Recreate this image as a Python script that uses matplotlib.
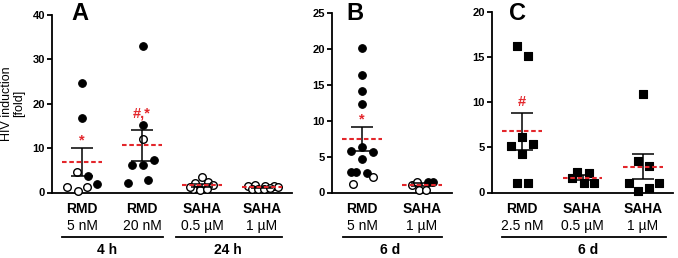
import numpy as np
import matplotlib
matplotlib.use('Agg')
import matplotlib.pyplot as plt
from matplotlib import transforms

plt.rcParams['font.family'] = ['Liberation Sans', 'DejaVu Sans']

# ---------------- data ----------------
# Panel A
a_labels_top = ["RMD", "RMD", "SAHA", "SAHA"]
a_labels_conc = ["5 nM", "20 nM", "0.5 \u00b5M", "1 \u00b5M"]
a_rmd5 = [24.6, 16.9, 4.6, 3.7, 1.35, 1.3, 2.0, 0.45]
a_rmd5_open = [0, 0, 1, 0, 1, 1, 0, 1]
a_rmd20 = [33.1, 15.1, 12.1, 6.1, 6.1, 7.3, 2.25, 2.8]
a_rmd20_open = [0, 0, 1, 0, 0, 0, 0, 0]
a_saha05 = [3.4, 2.1, 2.3, 1.8, 0.8, 0.5, 0.7, 1.2]
a_saha05_open = [1, 1, 1, 1, 1, 1, 1, 1]
a_saha1 = [1.4, 1.6, 1.5, 1.5, 0.8, 0.7, 0.9, 1.0, 1.2]
a_saha1_open = [1, 1, 1, 1, 1, 1, 1, 1, 1]
a_annot = ["*", "#,*", "", ""]
a_annot_y = [11.8, 17.8, 0, 0]
a_time = ["4 h", "24 h"]

# Panel B
b_labels_top = ["RMD", "SAHA"]
b_labels_conc = ["5 nM", "1 \u00b5M"]
b_rmd5 = [20.1, 16.3, 14.1, 12.3, 6.4, 5.8, 5.6, 4.6, 2.8, 2.9, 2.7, 1.25, 2.1]
b_rmd5_open = [0, 0, 0, 0, 0, 0, 0, 0, 0, 0, 0, 1, 1]
b_saha1 = [1.1, 1.5, 1.5, 1.5, 0.4, 0.4]
b_saha1_open = [1, 1, 0, 0, 1, 1]
b_annot = ["*", ""]
b_annot_y = [10.2, 0]
b_time = ["6 d"]

# Panel C
c_labels_top = ["RMD", "SAHA", "SAHA"]
c_labels_conc = ["2.5 nM", "0.5 \u00b5M", "1 \u00b5M"]
c_rmd25 = [16.2, 15.1, 6.2, 5.1, 5.4, 4.3, 1.0, 1.0]
c_saha05 = [2.3, 2.2, 1.6, 1.0, 1.0]
c_saha1 = [10.9, 3.5, 2.9, 1.0, 1.0, 0.55, 0.2]
c_annot = ["#", "", ""]
c_annot_y = [10.0, 0, 0]
c_time = ["6 d"]

# ---------------- layout (horizontal jitter, in pixels) ----------------
PX = 60.0  # pixels per category
jit = {
    'a0': [0, 0, -5, 6, -15, 5, 15, -4],
    'a1': [1, 1, 1, -10, 1, 12, -14, 6],
    'a2': [0, -7, 6, 11, -9, -2, 5, -12],
    'a3': [-14, -7, 3, 12, -10, -4, 2, 8, 16],
    'b0': [0, 0, 0, 0, 0, -11, 11, 0, -11, -6, 5, -9, 11],
    'b1': [-10, -5, 6, 11, -3, 4],
    'c0': [-5, 6, 0, -11, 11, 0, -5, 6],
    'c1': [-5, 6, -10, 1, 11],
    'c2': [0, -5, 6, -14, 16, 6, -5],
}

RED = '#e3262b'
fig = plt.figure(figsize=(6.78, 2.58), dpi=100)
W, H = 678.0, 258.0

def make_ax(left_px, right_px, top_px, ymax, ncat, yticks):
    y0 = 192.5
    ax = fig.add_axes([left_px / W, (H - y0) / H, (right_px - left_px) / W, (y0 - top_px) / H])
    ax.set_xlim(-0.5, ncat - 0.5)
    ax.set_ylim(0, ymax)
    ax.set_yticks(yticks)
    ax.set_xticks([])
    for s in ['top', 'right']:
        ax.spines[s].set_visible(False)
    for s in ['left', 'bottom']:
        ax.spines[s].set_linewidth(1.3)
    ax.tick_params(axis='y', length=3.5, width=1.3, labelsize=8, pad=1.5)
    for t in ax.get_yticklabels():
        t.set_fontweight('bold')
    ax.patch.set_alpha(0)
    return ax

def draw_group(ax, i, vals, dx, opens, marker, ms):
    vals = np.asarray(vals, float)
    xs = i + np.asarray(dx, float) / PX
    opens = np.asarray(opens, bool)
    if (~opens).any():
        ax.scatter(xs[~opens], vals[~opens], s=ms, marker=marker, facecolor='black',
                   edgecolor='black', linewidths=0.8, zorder=3, clip_on=False)
    if opens.any():
        ax.scatter(xs[opens], vals[opens], s=ms, marker=marker, facecolor='white',
                   edgecolor='black', linewidths=1.0, zorder=3, clip_on=False)
    m = vals.mean()
    sem = vals.std(ddof=1) / np.sqrt(len(vals))
    ax.errorbar([i], [m], yerr=[sem], fmt='none', ecolor='black', elinewidth=1.1,
                capsize=7.8, capthick=1.1, zorder=4)
    ax.hlines(m, i - 0.33, i + 0.33, colors=RED, linestyles=(0, (2.2, 1.3)),
              linewidth=1.5, zorder=5)

def labels(ax, tops, concs, annots, annot_y):
    tr = transforms.blended_transform_factory(ax.transData, fig.transFigure)
    for i, (t, c) in enumerate(zip(tops, concs)):
        ax.text(i, (H - 209) / H, t, transform=tr, ha='center', va='center',
                fontsize=10, fontweight='bold')
        ax.text(i, (H - 226) / H, c, transform=tr, ha='center', va='center',
                fontsize=10)
    for i, (a, y) in enumerate(zip(annots, annot_y)):
        if a:
            ax.text(i, y, a, ha='center', va='center', color=RED, fontsize=10.5,
                    fontweight='bold')

def timeline(ax, x0, x1, xl, txt):
    tr = transforms.blended_transform_factory(ax.transData, fig.transFigure)
    ax.plot([x0, x1], [(H - 237) / H] * 2, transform=tr, color='black', lw=1.3,
            clip_on=False)
    ax.text(xl, (H - 250) / H, txt, transform=tr, ha='center', va='center',
            fontsize=10, fontweight='bold')

ms_c = 30
ms_s = 32

# Panel A
axA = make_ax(52, 292, 15, 40, 4, [0, 10, 20, 30, 40])
for i, (v, o) in enumerate([(a_rmd5, a_rmd5_open), (a_rmd20, a_rmd20_open),
                            (a_saha05, a_saha05_open), (a_saha1, a_saha1_open)]):
    draw_group(axA, i, v, jit['a%d' % i], o, 'o', ms_c)
labels(axA, a_labels_top, a_labels_conc, a_annot, a_annot_y)
timeline(axA, -0.33, 1.35, 0.42, a_time[0])
timeline(axA, 1.57, 3.33, 2.43, a_time[1])
axA.set_ylabel("HIV induction\n[fold]", fontsize=9, labelpad=5, linespacing=1.05)

# Panel B
axB = make_ax(332, 452, 13, 25, 2, [0, 5, 10, 15, 20, 25])
for i, (v, o) in enumerate([(b_rmd5, b_rmd5_open), (b_saha1, b_saha1_open)]):
    draw_group(axB, i, v, jit['b%d' % i], o, 'o', ms_c)
labels(axB, b_labels_top, b_labels_conc, b_annot, b_annot_y)
timeline(axB, -0.32, 1.33, 0.47, b_time[0])

# Panel C
axC = make_ax(492, 673, 12, 20, 3, [0, 5, 10, 15, 20])
for i, v in enumerate([c_rmd25, c_saha05, c_saha1]):
    draw_group(axC, i, v, jit['c%d' % i], [0] * len(v), 's', ms_s)
labels(axC, c_labels_top, c_labels_conc, c_annot, c_annot_y)
timeline(axC, -0.33, 2.38, 1.1, c_time[0])

# Panel letters
for letter, xp in [("A", 80), ("B", 355), ("C", 518)]:
    fig.text(xp / W, (H - 14) / H, letter, ha='center', va='center',
             fontsize=17, fontweight='bold')

fig.savefig('out.png', dpi=100)
